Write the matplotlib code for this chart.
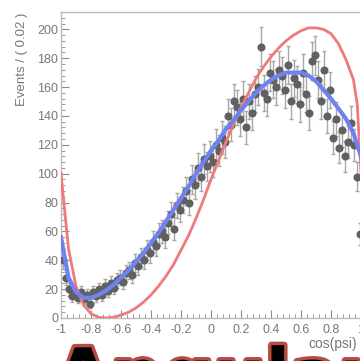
import numpy as np
import matplotlib
matplotlib.use("Agg")
import matplotlib.pyplot as plt
import matplotlib.patheffects as pe
from matplotlib.ticker import MultipleLocator

# bin centres (width 0.02) and counts
bin_x = np.arange(-0.99, 1.0, 0.02)
counts = [40, 28, 20, 15, 17, 14, 18, 13, 16, 10,
          18, 15, 20, 16, 22, 19, 24, 21, 26, 28,
          25, 31, 33, 30, 38, 36, 42, 40, 47, 45,
          53, 50, 58, 60, 56, 66, 72, 62, 78, 75,
          82, 88, 80, 96, 92, 104, 98, 110, 105, 112,
          108, 120, 116, 125, 122, 140, 134, 150, 146, 138,
          152, 132, 150, 142, 155, 160, 188, 156, 152, 170,
          165, 160, 172, 168, 158, 175, 150, 166, 162, 148,
          170, 155, 142, 178, 182, 165, 150, 172, 140, 158,
          125, 138, 118, 130, 112, 122, 135, 120, 98, 58]

# fitted curve (blue) and model curve (red)
curve_x = [-1.0, -0.95, -0.9, -0.85, -0.8, -0.75, -0.7, -0.65, -0.6, -0.55,
           -0.5, -0.45, -0.4, -0.35, -0.3, -0.25, -0.2, -0.15, -0.1, -0.05,
           0.0, 0.05, 0.1, 0.15, 0.2, 0.25, 0.3, 0.35, 0.4, 0.45,
           0.5, 0.55, 0.6, 0.65, 0.7, 0.75, 0.8, 0.85, 0.9, 0.95, 0.975, 1.0]
fit_blue = [56, 28, 18, 14, 14, 16, 19, 23, 28, 33,
            39, 45, 52, 59, 67, 75, 83, 91, 100, 108,
            116, 123, 131, 137, 144, 150, 156, 161, 165, 168,
            170, 170, 170, 168, 164, 158, 152, 145, 138, 128, 120, 112]
model_red = [100, 48, 22, 9, 3, 0.5, 0, 0.5, 2, 4,
             7, 11, 16, 22, 29, 37, 47, 57, 69, 82,
             96, 109, 122, 134, 146, 156, 166, 174, 181, 187,
             192, 196, 199, 201, 201, 200, 197, 190, 179, 165, 148, 100]

x_ticks = [-1, -0.8, -0.6, -0.4, -0.2, 0, 0.2, 0.4, 0.6, 0.8, 1]
x_labels = ["-1", "-0.8", "-0.6", "-0.4", "-0.2", "0", "0.2", "0.4", "0.6", "0.8", "1"]

grey = "#8a8a8a"
fig = plt.figure(figsize=(3.6, 3.61), dpi=100)
ax = fig.add_axes([61 / 360, 1 - 318 / 361, 300 / 360, 306 / 361])

# data with poisson errors
ax.errorbar(bin_x, counts, yerr=np.sqrt(counts), fmt="o", color="#606060",
            ecolor="#a8a8a8", elinewidth=1, capsize=1.5, markersize=4.8, zorder=3)
ax.plot(curve_x, model_red, color="#f07a7a", lw=2, zorder=4)
ax.plot(curve_x, fit_blue, color="#6f82f2", lw=3, zorder=5)

ax.set_xlim(-1, 1)
ax.set_ylim(0, 212)
ax.set_xticks(x_ticks)
ax.set_xticklabels(x_labels)
ax.set_yticks(np.arange(0, 201, 20))
ax.xaxis.set_minor_locator(MultipleLocator(0.04))
ax.yaxis.set_minor_locator(MultipleLocator(4))
ax.tick_params(which="both", direction="in", colors=grey, labelcolor="#777777",
               labelsize=9, top=False, right=False)
ax.tick_params(which="major", length=6, width=0.8)
ax.tick_params(which="minor", length=3, width=0.6)
ax.tick_params(axis="x", pad=4)
ax.tick_params(axis="y", pad=2)
for lab in ax.get_xticklabels() + ax.get_yticklabels():
    lab.set_family("Liberation Sans")
for s in ax.spines.values():
    s.set_color("#bbbbbb")
    s.set_linewidth(1)

fig.text(22 / 360, 1 - 13 / 361, "Events / ( 0.02 )", rotation=90, ha="center", va="top",
         color="#777777", fontsize=9.5, family="Liberation Sans")
fig.text(308 / 360, 1 - 344 / 361, "cos(psi)", ha="left", va="center",
         color="#777777", fontsize=10, family="Liberation Sans", zorder=5)

# big outlined caption, cut by the bottom edge
fig.text(55 / 360, 1 - 400 / 361, "Angular", ha="left", va="baseline", fontsize=52,
         fontweight="bold", color="black", family=["Liberation Sans Narrow", "DejaVu Sans"],
         path_effects=[pe.withStroke(linewidth=5, foreground="#b84a44")], zorder=1)

fig.savefig("out.png", dpi=100)
